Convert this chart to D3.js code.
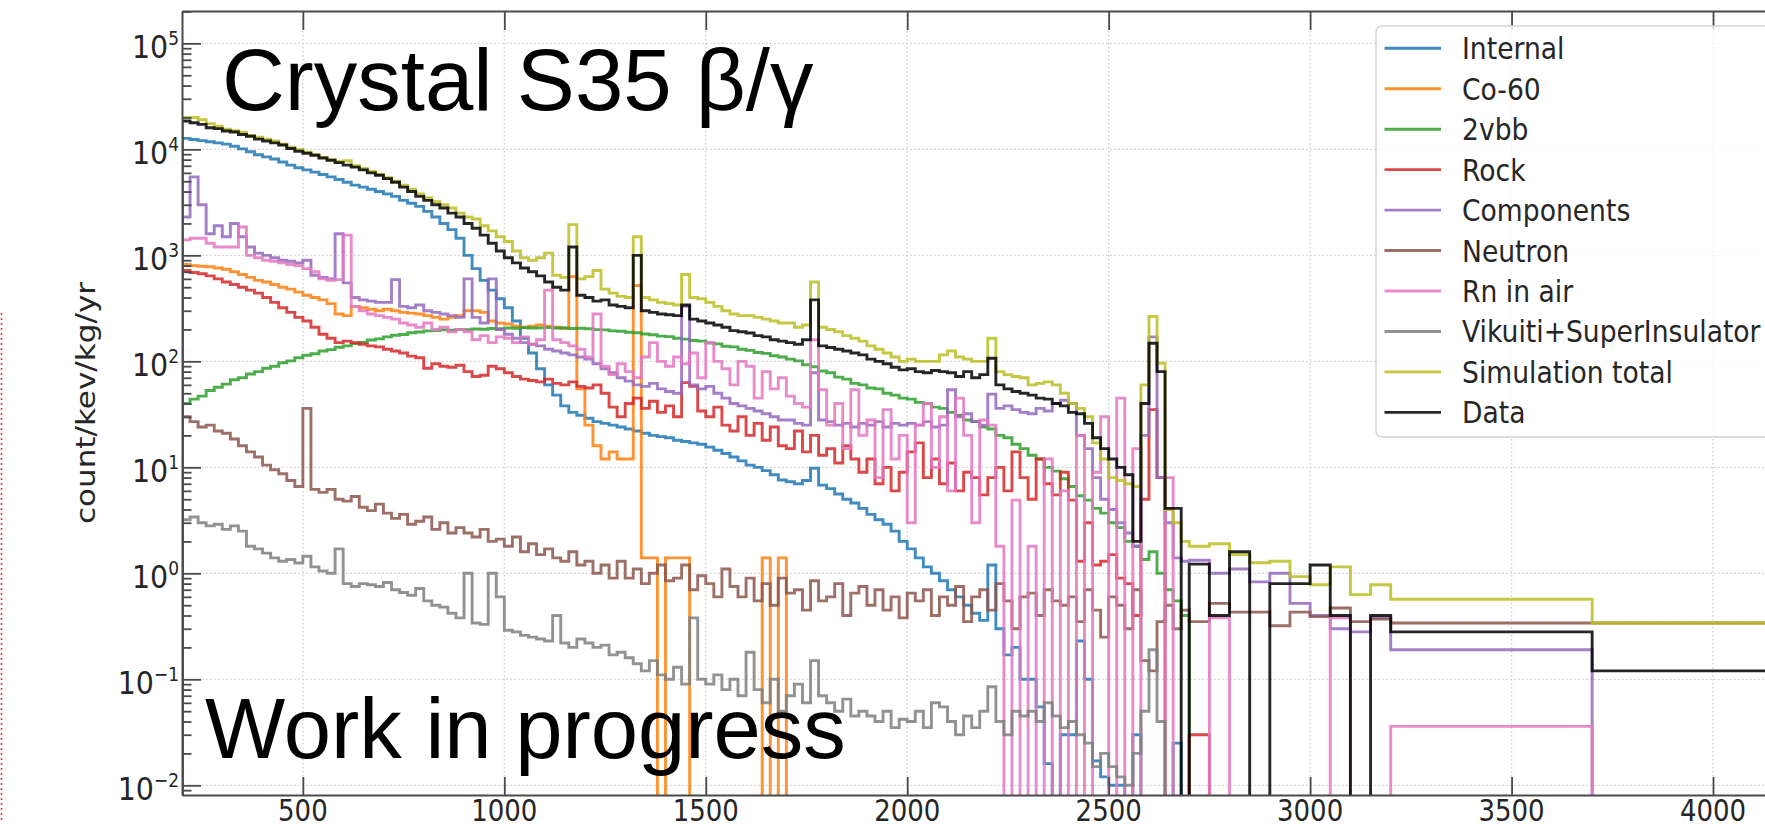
<!DOCTYPE html>
<html>
<head>
<meta charset="utf-8">
<script src="https://cdn.jsdelivr.net/npm/d3@7"></script>
<style>
  body { margin: 0; background: #fff; }
  svg { display: block; }
  .tick-label, .legend-label, .axis-title { font-family: "DejaVu Sans", sans-serif; fill: #262626; }
  .overlay { font-family: "Liberation Sans", Arial, sans-serif; fill: #000; }
  .axis path.domain { stroke: #4a4a4a; stroke-width: 2; }
  .axis .tick line { stroke: #4a4a4a; stroke-width: 1.8; }
  .grid line { stroke: #cbcbcb; stroke-width: 1.3; stroke-dasharray: 1.5 2.5; }
</style>
</head>
<body>
<svg id="chart" width="1765" height="824"></svg>
<script>
// histogram binning (keV): 20 keV bins up to 2700, then wide bins
var fineEdges = d3.range(200, 2701, 20);
var wideEdges = [2750, 2800, 2850, 2900, 2950, 3000, 3050, 3100, 3150, 3200, 3700, 4300];
var binEdges = fineEdges.concat(wideEdges);

var xTicks = [500, 1000, 1500, 2000, 2500, 3000, 3500, 4000];
var yExponents = [-2, -1, 0, 1, 2, 3, 4, 5];

var seriesNames = ['Internal', 'Co-60', '2vbb', 'Rock', 'Components', 'Neutron',
                   'Rn in air', 'Vikuiti+SuperInsulator', 'Simulation total', 'Data'];
var seriesColors = ['#1f77b4', '#ff7f0e', '#2ca02c', '#d62728', '#9467bd', '#8c564b',
                    '#e377c2', '#7f7f7f', '#bcbd22', '#000000'];

// count/kev/kg/yr per bin
var internal = [
  1.27e4,1.24e4,1.21e4,1.18e4,1.15e4, 1.12e4,1.07e4,1.01e4,9.5e3,8.9e3,
  8.5e3,8.1e3,7.6e3,7.1e3,6.7e3, 6.4e3,6.1e3,5.8e3,5.5e3,5.2e3,
  4.9e3,4.6e3,4.4e3,4.2e3,4.0e3, 3.8e3,3.6e3,3.3e3,3.1e3,2.9e3,
  2.6e3,2.3e3,2.0e3,1.75e3,1.45e3, 1.0e3,750,580,470,390,
  320,240,165,120,85, 60,48,38,33,31,
  29,27,26,25,24, 23,22,21,20,19.5,
  19,18,17.5,17,16.5, 15.5,14.5,13.5,12.5,11.5,
  10.5,10,9.3,8.5,7.6, 7.3,7.0,7.5,9.8,6.8,
  6.3,5.6,5.0,4.6,4.1, 3.6,3.2,2.9,2.5,2.0,
  1.7,1.4,1.15,1.0,0.85, 0.7,0.6,0.5,0.42,0.36,
  1.2,0.3,0.17,0.2,0.1, 0.1,0.055,0.016,0,0.03,
  0.03,0.23,0.1,0.017,0.012, 0.01,0.01,0,0.03,0,
  0,0,0,0.025,0,
  0,0,0,0,0,0,0,0,0,0,0,0
];
var co60 = [
  820,800,790,780,760, 740,700,660,620,580,
  560,530,500,480,450, 420,400,380,350,280,
  270,330,320,310,300, 310,300,290,285,280,
  270,260,250,260,270, 300,300,290,240,230,
  225,215,210,215,220, 215,210,205,630,55,
  25,16,12,14,12, 12,520,1.4,1.4,0,
  1.4,1.4,1.4,0,0, 0,0,0,0,0,
  0,0,1.4,0,1.4, 0,0,0,0,0,
  0,0,0,0,0, 0,0,0,0,0,
  0,0,0,0,0, 0,0,0,0,0,
  0,0,0,0,0, 0,0,0,0,0,
  0,0,0,0,0, 0,0,0,0,0,
  0,0,0,0,0,
  0,0,0,0,0,0,0,0,0,0,0,0
];
var twoNuBB = [
  40,44,47,53,57, 61,67,70,76,80,
  86,90,97,101,108, 114,118,125,129,136,
  140,147,151,159,163, 170,176,179,186,189,
  194,195,198,197,200, 199,202,201,204,203,
  206,205,208,206,207, 208,206,207,204,205,
  203,199,198,194,192, 188,186,181,178,173,
  171,165,162,157,155, 149,146,139,137,130,
  127,121,119,113,110, 105,101,93,89,81,
  78,71,68,62,60, 56,55,50,48,45,
  44,41,40,37,36, 33,31,28,27,24,
  23,20,19,16.5,15, 13,12,10,9.2,7.8,
  6.6,5.4,4.9,4.1,3.7, 3.0,2.7,2.0,1.8,1.35,
  1.6,1.0,0.7,0.55,0.4,
  0,0,0,0,0,0,0,0,0,0,0,0
];
var rock = [
  720,690,670,640,600, 560,530,500,470,440,
  400,360,320,290,260, 240,210,180,165,150,
  155,150,145,140,137, 130,125,120,112,108,
  86,95,90,88,92, 80,72,74,90,85,
  78,72,68,66,64, 68,62,60,64,58,
  56,60,50,37,30, 40,45,36,42,33,
  38,30,63,58,34, 30,37,25,22,30,
  20,26,18,24,16, 15,22,14,20,13,
  15,11,16,12,9, 12,7,10,6,9,
  14,17,8,12,7, 11,6,9,8,5.5,
  8,10,6,14,8, 5,12,7,5.5,9,
  4.9,1.3,3.0,1.2,1.3, 1.5,0.9,0.8,0.4,5,
  35,8,0,0,0,
  0.03,0,0,0,0,0,0,0,0,0,0,0
];
var components = [
  2.3e3,5.5e3,3.0e3,1.6e3,1.9e3, 1.5e3,2.0e3,1.5e3,1.2e3,1.05e3,
  1.0e3,950,900,880,850, 900,650,620,600,1.6e3,
  550,400,380,370,360, 360,590,330,320,340,
  300,290,280,270,260, 600,260,230,600,200,
  180,165,150,145,140, 130,125,120,115,110,
  105,95,85,78,70, 65,60,58,62,55,
  52,50,330,60,55, 58,50,45,40,38,
  36,34,32,30,28, 28,26,25,78,28,
  27,25,26,24,26, 25,27,24,26,25,
  26,25,27,24,25, 54,30,32,27,25,
  49,36,38,35,33, 32,36,34,40,43,
  40,20,15,8,5, 4,3,2.4,1.8,20,
  170,8,3,1.4,1.3,
  1.33,1.0,1.1,0.83,1.0,0.52,0.4,0.3,0.28,0.38,0.19,0
];
var neutron = [
  30,27,24,25,22, 21,18.5,16,14,12.5,
  10.5,9.5,8.7,7.5,6.6, 36,6.2,5.8,6.2,5.0,
  4.8,5.3,4.2,3.9,4.5, 3.7,3.3,3.6,2.9,3.1,
  3.4,2.6,3.0,2.4,2.7, 2.4,2.2,2.6,2.0,2.1,
  1.8,2.2,1.6,1.9,1.5, 1.7,1.4,1.3,1.6,1.2,
  1.3,1.0,1.2,0.9,1.3, 0.9,1.1,0.8,1.0,1.2,
  0.85,0.9,1.2,0.7,0.95, 0.8,0.6,1.1,0.75,0.6,
  0.9,0.55,0.8,0.5,0.9, 0.65,0.7,0.45,0.85,0.55,
  0.6,0.8,0.4,0.65,0.75, 0.5,0.7,0.45,0.6,0.38,
  0.65,0.55,0.7,0.4,0.6, 0.5,0.75,0.35,0.6,0.7,
  0.45,0.8,0.55,0.3,0.6, 0.65,0.4,0.7,0.55,0.5,
  0.6,0.35,0.7,0.45,0.25, 0.6,0.5,0.3,0.7,0.15,
  0.12,0.35,0.5,0.3,0.45,
  0.35,0.52,0.43,0.43,0.32,0.43,0.39,0.47,0.35,0.37,0.34,0.34
];
var rnInAir = [
  1.4e3,1.45e3,1.45e3,1.3e3,1.2e3, 1.2e3,1.2e3,1.85e3,1.0e3,950,
  900,880,850,820,800, 750,700,600,580,590,
  1.55e3,330,300,280,270, 260,250,230,220,210,
  230,200,210,190,200, 190,160,175,150,170,
  165,150,170,145,160, 470,160,150,140,130,
  110,280,90,75,95, 80,70,110,150,100,
  90,110,95,120,70, 150,100,85,60,100,
  90,45,80,55,70, 47,40,37,160,54,
  25,40,15,54,20, 28,8,35,12,20,
  3,25,40,10,30, 6,45,20,3,28,
  25,1.8,0,4.9,0, 1.8,0,12,0,6,
  0,20,0,9,30, 0,45,0,15,0,
  0,0,8,0,0,
  0,0.38,0,0,0,0,0,0.38,0,0,0.036,0
];
var vikuiti = [
  3.2,3.4,3.0,2.8,2.9, 2.6,2.8,2.5,1.8,1.7,
  1.55,1.4,1.3,1.35,1.25, 1.45,1.15,1.05,1.0,1.7,
  0.8,0.75,0.8,0.78,0.75, 0.82,0.7,0.66,0.62,0.72,
  0.55,0.5,0.48,0.42,0.38, 1.0,0.34,0.33,1.0,0.6,
  0.29,0.28,0.26,0.25,0.24, 0.23,0.4,0.22,0.2,0.24,
  0.22,0.2,0.21,0.17,0.18, 0.16,0.14,0.12,0.15,0.11,
  0.1,0.13,0.09,0.38,0.1, 0.09,0.11,0.08,0.1,0.07,
  0.18,0.08,0.06,0.1,0.05, 0.07,0.09,0.06,0.15,0.07,
  0.06,0.05,0.065,0.045,0.05, 0.045,0.04,0.05,0.035,0.042,
  0.04,0.05,0.035,0.06,0.055, 0.04,0.03,0.045,0.035,0.05,
  0.085,0.04,0.03,0.05,0.045, 0.05,0.04,0.06,0.045,0.035,
  0.04,0.03,0.025,0.015,0.02, 0.015,0.012,0.01,0.02,0.05,
  0.19,0.04,0,0,0,
  0,0,0,0,0,0,0,0,0,0,0,0
];
var simTotal = [
  2.0e4,2.0e4,1.9e4,1.75e4,1.65e4, 1.55e4,1.5e4,1.45e4,1.35e4,1.3e4,
  1.25e4,1.2e4,1.12e4,1.05e4,1.0e4, 9.4e3,8.9e3,8.4e3,8.0e3,7.7e3,
  7.8e3,7.0e3,6.6e3,6.2e3,5.8e3, 5.4e3,5.0e3,4.6e3,4.2e3,3.8e3,
  3.5e3,3.2e3,3.0e3,2.8e3,2.5e3, 2.3e3,2.2e3,1.9e3,1.7e3,1.5e3,
  1.35e3,1.1e3,950,900,950, 1.05e3,650,620,1.95e3,600,
  630,720,480,440,410, 400,1.5e3,400,380,360,
  350,340,660,400,390, 360,330,300,280,270,
  270,260,250,240,230, 230,210,220,560,210,
  200,190,175,165,155, 140,130,120,110,100,
  105,100,100,100,115, 125,110,105,100,100,
  165,80,75,72,70, 60,62,64,60,50,
  40,36,30,17,12, 8,7.5,7,6.6,60,
  265,96,4,3,2,
  1.8,1.9,1.5,1.26,1.3,0.93,0.78,1.15,0.63,0.78,0.57,0.34
];
var data = [
  1.85e4,1.78e4,1.72e4,1.6e4,1.57e4, 1.49e4,1.46e4,1.38e4,1.33e4,1.25e4,
  1.2e4,1.15e4,1.1e4,1.02e4,9.6e3, 9.2e3,8.8e3,8.3e3,7.9e3,7.5e3,
  7.1e3,6.8e3,6.4e3,6.0e3,5.7e3, 5.3e3,4.9e3,4.4e3,4.0e3,3.6e3,
  3.3e3,3.0e3,2.8e3,2.5e3,2.3e3, 2.0e3,1.8e3,1.55e3,1.3e3,1.1e3,
  950,850,760,700,640, 560,500,470,1.2e3,420,
  400,370,380,340,330, 320,1.0e3,300,290,280,
  275,270,340,250,240, 230,220,210,195,190,
  185,175,170,160,155, 150,145,160,380,140,
  135,130,125,120,115, 105,100,95,88,83,
  85,80,78,82,80, 78,72,80,70,75,
  107,60,55,52,50, 48,45,44,40,38,
  33,32,26,19,15, 12,10,8.5,2.0,40,
  148,80,4.1,4.1,0,
  1.22,0.4,1.6,0,0.8,0.8,1.2,0.4,0,0.4,0.28,0.12
];

var seriesValues = [internal, co60, twoNuBB, rock, components, neutron,
                    rnInAir, vikuiti, simTotal, data];

var svg = d3.select('#chart');
var plotLeft = 182, plotTop = 11, plotBottom = 795, plotRight = 1765;

var x = d3.scaleLinear().domain([200, 4300]).range([plotLeft, plotLeft + 4100 * 0.4029]);
var y = d3.scaleLog().domain([0.0081, 2.02e5]).range([plotBottom, plotTop]);
var yFloor = plotBottom + 60;

var yMajor = yExponents.map(function(e) { return Math.pow(10, e); });
var yMinor = [9e-3];
yExponents.forEach(function(e) {
  for (var m = 2; m <= 9; m++) {
    var v = m * Math.pow(10, e);
    if (v < y.domain()[1]) yMinor.push(v);
  }
});

svg.append('defs').append('clipPath').attr('id', 'plot-clip')
  .append('rect').attr('x', plotLeft).attr('y', plotTop)
  .attr('width', plotRight - plotLeft).attr('height', plotBottom - plotTop);

// grid
var grid = svg.append('g').attr('class', 'grid');
grid.selectAll('line.gx').data(xTicks).join('line').attr('class', 'gx')
  .attr('x1', function(d) { return x(d); }).attr('x2', function(d) { return x(d); })
  .attr('y1', plotTop).attr('y2', plotBottom);
grid.selectAll('line.gy').data(yMajor).join('line').attr('class', 'gy')
  .attr('x1', plotLeft).attr('x2', plotRight)
  .attr('y1', function(d) { return y(d); }).attr('y2', function(d) { return y(d); });

// step histograms
function stepPath(vals) {
  var pts = [[x(binEdges[0]), yFloor]];
  vals.forEach(function(v, i) {
    var yy = v > 0 ? y(v) : yFloor;
    pts.push([x(binEdges[i]), yy], [x(binEdges[i + 1]), yy]);
  });
  pts.push([x(binEdges[binEdges.length - 1]), yFloor]);
  return d3.line()(pts);
}

var plot = svg.append('g').attr('clip-path', 'url(#plot-clip)');
seriesValues.forEach(function(vals, i) {
  plot.append('path')
    .attr('d', stepPath(vals))
    .attr('fill', 'none')
    .attr('stroke', seriesColors[i])
    .attr('stroke-opacity', 0.85)
    .attr('stroke-width', 2.9);
});

// axes (ticks pointing inward)
svg.append('g').attr('class', 'axis').attr('transform', 'translate(0,' + plotBottom + ')')
  .call(d3.axisBottom(x).tickValues(xTicks).tickSizeInner(-18).tickSizeOuter(0).tickFormat(''));
svg.append('g').attr('class', 'axis').attr('transform', 'translate(0,' + plotTop + ')')
  .call(d3.axisTop(x).tickValues(xTicks).tickSizeInner(-19).tickSizeOuter(0).tickFormat(''));
svg.append('g').attr('class', 'axis').attr('transform', 'translate(' + plotLeft + ',0)')
  .call(d3.axisLeft(y).tickValues(yMajor).tickSizeInner(-19).tickSizeOuter(0).tickFormat(''));
var minorAxis = svg.append('g').attr('class', 'axis').attr('transform', 'translate(' + plotLeft + ',0)')
  .call(d3.axisLeft(y).tickValues(yMinor).tickSizeInner(-9.5).tickSizeOuter(0).tickFormat(''));
minorAxis.select('.domain').remove();

// tick labels (source image is stretched vertically)
var stretch = 1.13;
svg.append('g').selectAll('text').data(xTicks).join('text')
  .attr('class', 'tick-label')
  .attr('transform', function(d) { return 'translate(' + x(d) + ',821) scale(1,' + stretch + ')'; })
  .attr('text-anchor', 'middle')
  .attr('font-size', 26)
  .text(function(d) { return d; });

var yLab = svg.append('g').selectAll('text').data(yExponents).join('text')
  .attr('class', 'tick-label')
  .attr('transform', function(d) { return 'translate(179,' + (y(Math.pow(10, d)) + 15) + ') scale(1,' + stretch + ')'; })
  .attr('text-anchor', 'end')
  .attr('font-size', 28.5);
yLab.append('tspan').text('10');
yLab.append('tspan').attr('font-size', 17).attr('dy', -12)
  .text(function(d) { return d < 0 ? '\u2212' + (-d) : String(d); });

svg.append('text').attr('class', 'axis-title')
  .attr('transform', 'translate(95,' + ((plotTop + plotBottom) / 2) + ') scale(1,1.15) rotate(-90)')
  .attr('text-anchor', 'middle')
  .attr('font-size', 27)
  .text('count/kev/kg/yr');

// legend
var legend = svg.append('g');
legend.append('rect')
  .attr('x', 1376).attr('y', 26).attr('width', 520).attr('height', 411).attr('rx', 6)
  .attr('fill', '#fff').attr('fill-opacity', 0.8)
  .attr('stroke', '#d4d4d4').attr('stroke-width', 1.5);
var rows = legend.selectAll('g.row').data(seriesNames).join('g').attr('class', 'row')
  .attr('transform', function(d, i) { return 'translate(0,' + (48.3 + i * 40.45) + ')'; });
rows.append('line')
  .attr('x1', 1384.5).attr('x2', 1441).attr('y1', 0).attr('y2', 0)
  .attr('stroke', function(d, i) { return seriesColors[i]; })
  .attr('stroke-opacity', 0.85).attr('stroke-width', 2.9);
rows.append('text').attr('class', 'legend-label')
  .attr('transform', 'translate(1462,11) scale(1,' + stretch + ')')
  .attr('font-size', 26.6)
  .text(function(d) { return d; });

// slide overlays
svg.append('text').attr('class', 'overlay')
  .attr('x', 222).attr('y', 110).attr('font-size', 87)
  .text('Crystal S35 \u03b2/\u03b3');
svg.append('text').attr('class', 'overlay')
  .attr('x', 205).attr('y', 758).attr('font-size', 85)
  .text('Work in progress');

// red dotted marker at the far left edge of the slide
svg.append('line')
  .attr('x1', 1.5).attr('x2', 1.5).attr('y1', 313).attr('y2', 822)
  .attr('stroke', '#e0403a').attr('stroke-width', 1.6).attr('stroke-dasharray', '2 3');
</script>
</body>
</html>
